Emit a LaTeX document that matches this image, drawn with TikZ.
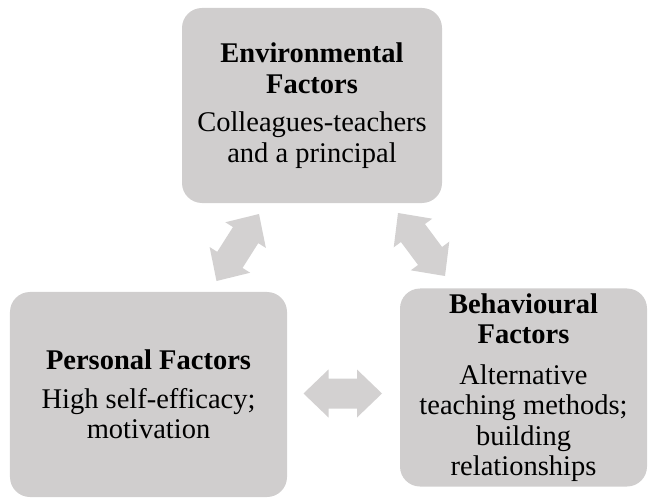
\documentclass[tikz,border=0pt]{standalone}
\usepackage{fontspec}
\setmainfont{Liberation Serif}
\usetikzlibrary{calc}
\definecolor{boxgray}{HTML}{D0CECE}
\definecolor{arrowgray}{HTML}{D3D1D1}

% block arrow with a head at both ends, from #1 to #2
\newcommand{\linkarrow}[2]{%
    \fill[arrowgray] (#1)
        -- ($(#1)!25bp!(#2)!24bp!90:(#2)$)
        -- ($(#1)!25bp!(#2)!15bp!90:(#2)$)
        -- ($(#2)!25bp!(#1)!15bp!-90:(#1)$)
        -- ($(#2)!25bp!(#1)!24bp!-90:(#1)$)
        -- (#2)
        -- ($(#2)!25bp!(#1)!24bp!90:(#1)$)
        -- ($(#2)!25bp!(#1)!15bp!90:(#1)$)
        -- ($(#1)!25bp!(#2)!15bp!-90:(#2)$)
        -- ($(#1)!25bp!(#2)!24bp!-90:(#2)$)
        -- cycle;}

\begin{document}
\begin{tikzpicture}[x=1bp,y=-1bp,
    factor/.style={fill=boxgray, rounded corners=20bp, align=center, inner sep=0pt,
        font=\fontsize{28.5bp}{30.5bp}\selectfont}]
    \useasboundingbox (0,0) rectangle (649,499);
    % the three factors
    \node[factor, minimum width=260bp, minimum height=195bp] (env) at (312,105.5)
        {\textbf{Environmental}\\\textbf{Factors}\\[8bp]Colleagues-teachers\\and a principal};
    \node[factor, minimum width=277bp, minimum height=205bp] (pers) at (148.5,394.5)
        {\textbf{Personal Factors}\\[8bp]High self-efficacy;\\motivation};
    \node[factor, minimum width=247bp, minimum height=198bp] (beh) at (523.5,387.5)
        {\textbf{Behavioural}\\\textbf{Factors}\\[10bp]Alternative\\teaching methods;\\building\\relationships};
    % arrow ends
    \coordinate (envP) at (259,214);
    \coordinate (persE) at (216.5,281);
    \coordinate (envB) at (398,213);
    \coordinate (behE) at (445,276);
    \coordinate (persB) at (303.5,393.5);
    \coordinate (behP) at (382,393.5);
    % links
    \linkarrow{envP}{persE}
    \linkarrow{envB}{behE}
    \linkarrow{persB}{behP}
\end{tikzpicture}
\end{document}
